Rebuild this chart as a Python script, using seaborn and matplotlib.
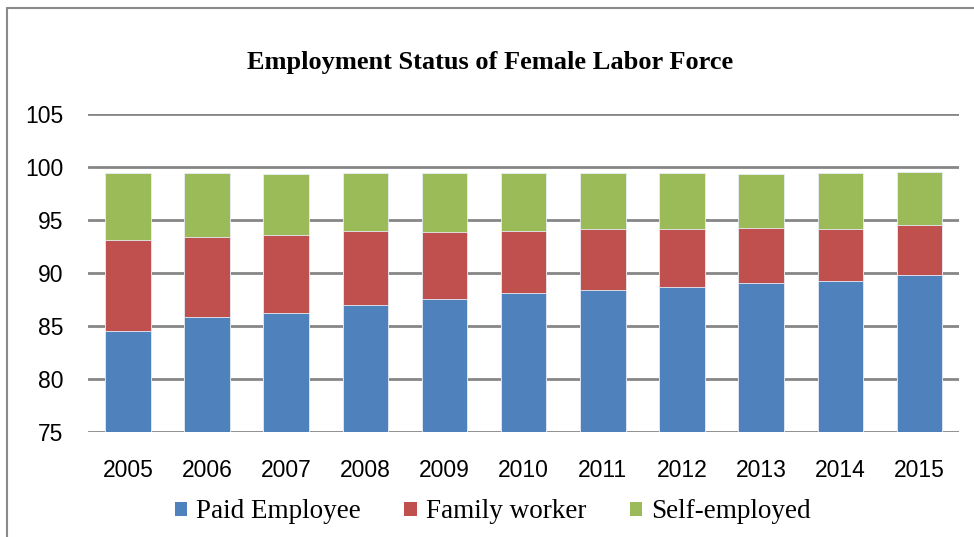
import matplotlib
matplotlib.use("Agg")
import matplotlib.pyplot as plt
import seaborn as sns
import pandas as pd
from matplotlib.patches import Patch
from matplotlib.lines import Line2D

years = ["2005", "2006", "2007", "2008", "2009", "2010", "2011", "2012", "2013", "2014", "2015"]
paid_employee = [84.6, 85.85, 86.3, 87.05, 87.6, 88.1, 88.4, 88.75, 89.05, 89.25, 89.8]
family_worker = [8.55, 7.55, 7.3, 6.9, 6.3, 5.9, 5.75, 5.45, 5.2, 4.95, 4.8]
self_employed = [6.35, 6.05, 5.8, 5.55, 5.6, 5.5, 5.35, 5.3, 5.15, 5.25, 4.95]
series_names = ["Paid Employee", "Family worker", "Self-employed"]
colors = ["#4F81BD", "#C0504D", "#9BBB59"]
yticks = [75, 80, 85, 90, 95, 100, 105]

df = pd.DataFrame({"year": years,
                   "paid": paid_employee,
                   "family": family_worker,
                   "self": self_employed})
df["c1"] = df["paid"]
df["c2"] = df["paid"] + df["family"]
df["c3"] = df["c2"] + df["self"]

sns.set_style("white")
fig = plt.figure(figsize=(9.74, 5.37), dpi=100)
ax = fig.add_axes([88.3/974, 1-432.3/537, (959-88.3)/974, (432.3-114.3)/537])

for col, c in zip(["c3", "c2", "c1"], colors[::-1]):
    sns.barplot(data=df, x="year", y=col, color=c, width=0.575, ax=ax,
                edgecolor="#e8eef5", linewidth=0.6, saturation=1, zorder=3)

ax.set_ylim(75, 105)
ax.set_yticks(yticks)
ax.set_xlim(-0.5, len(years) - 0.5)
ax.yaxis.grid(True, color="#868686", linewidth=2.0, zorder=0)
ax.set_axisbelow(True)
for s in ["left", "right", "top", "bottom"]:
    ax.spines[s].set_visible(False)
ax.set_xlabel("")
ax.set_ylabel("")
ax.tick_params(axis="both", length=0, labelsize=16.5, colors="black")
ax.tick_params(axis="y", pad=18)
ax.tick_params(axis="x", pad=19)
for lab in ax.get_xticklabels() + ax.get_yticklabels():
    lab.set_fontfamily("Liberation Sans")

fig.text(0.503, 1-62/537, "Employment Status of Female Labor Force",
         ha="center", va="center", fontsize=19, fontweight="bold",
         family="Liberation Serif", color="black")

handles = [Patch(facecolor=c, edgecolor="none") for c in colors]
leg = fig.legend(handles, series_names, loc="center", bbox_to_anchor=(0.506, 1-512/537),
                 ncol=3, frameon=False, handlelength=0.45, handleheight=0.45,
                 handletextpad=0.35, columnspacing=1.6,
                 prop={"family": "Liberation Serif", "size": 19.5})
for t in leg.get_texts():
    t.set_color("black")

# chart area border (left and top visible)
fig.add_artist(Line2D([7/974, 7/974], [0, 1-8/537], transform=fig.transFigure,
                      color="#8a8a8a", linewidth=1.5))
fig.add_artist(Line2D([7/974, 1], [1-8/537, 1-8/537], transform=fig.transFigure,
                      color="#8a8a8a", linewidth=1.5))

fig.savefig("out.png", dpi=100)
